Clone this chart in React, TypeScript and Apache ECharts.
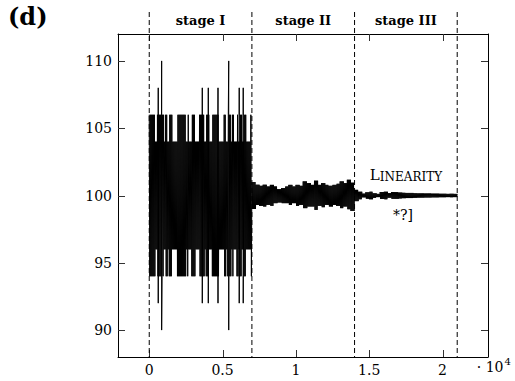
import { useEffect, useRef } from "react";
import * as echarts from "echarts";

// ---- axis ticks ----
const xTickValues = [0, 5000, 10000, 15000, 20000];
const yTickValues = [90, 95, 100, 105, 110];
const xRange = [-2130, 23100];
const yRange = [88, 112];

// ---- stages ----
const stageBounds = [0, 7000, 14000, 21000];
const stageNames = ["stage I", "stage II", "stage III"];

// stage I envelope spans: [from, to, low, high]
const stageISpans: number[][] = [
  [0, 7000, 96, 104],
  [0, 390, 94, 106],
  [548, 981, 94, 106],
  [1118, 1253, 94, 106],
  [1345, 1573, 94, 106],
  [1915, 2498, 94, 106],
  [2618, 2687, 94, 106],
  [2891, 3120, 94, 106],
  [3416, 3757, 94, 106],
  [3870, 4075, 94, 106],
  [4281, 4758, 94, 106],
  [5100, 5236, 94, 106],
  [5350, 5577, 94, 106],
  [5668, 5759, 94, 106],
  [5964, 6077, 94, 106],
  [6168, 6327, 94, 106],
  [6464, 6600, 94, 106],
  [6896, 7000, 94, 106],
];
// stage I isolated spikes: [x, low, high]
const stageISpikes: number[][] = [
  [614, 92, 108],
  [846, 90, 110],
  [3618, 92, 108],
  [4027, 92, 108],
  [4689, 92, 108],
  [5420, 90, 110],
  [6136, 92, 108],
  [6409, 92, 108],
];

// stage II / III envelopes, one value per 250-wide bin
const binWidth = 250;
const stageIIHigh = [
  101.0, 100.8, 100.72, 100.8, 100.67, 100.79, 100.67, 100.47, 100.55, 100.67,
  100.79, 100.67, 100.79, 100.72, 101.05, 100.92, 100.79, 101.1, 100.79, 100.92,
  100.79, 100.72, 100.79, 100.87, 101.05, 100.92, 101.17, 100.95,
];
const stageIILow = [
  99.0, 99.3, 99.23, 99.18, 99.3, 99.23, 99.43, 99.48, 99.43, 99.43,
  99.3, 99.43, 99.23, 99.3, 99.06, 99.18, 99.18, 98.93, 99.23, 99.13,
  99.3, 99.18, 99.3, 99.23, 99.06, 99.18, 98.98, 98.85,
];
const stageIIIHigh = [
  100.42, 100.28, 100.14, 100.24, 100.28, 100.17, 100.12, 100.26, 100.28, 100.17,
  100.25, 100.25, 100.22, 100.2, 100.19, 100.19, 100.17, 100.16, 100.16, 100.15,
  100.15, 100.14, 100.14, 100.13, 100.13, 100.12, 100.13, 100.12,
];
const stageIIILow = [
  99.58, 99.72, 99.86, 99.76, 99.72, 99.83, 99.88, 99.74, 99.72, 99.83,
  99.75, 99.75, 99.78, 99.8, 99.81, 99.81, 99.83, 99.84, 99.84, 99.85,
  99.85, 99.86, 99.86, 99.87, 99.87, 99.88, 99.87, 99.88,
];

const FONT = "'DejaVu Serif', serif";

function envelopeAt(x: number): [number, number] {
  if (x < stageBounds[1]) {
    let best: [number, number] = [100, 100];
    for (const s of stageISpans) {
      if (x >= s[0] && x <= s[1] && s[3] - s[2] > best[1] - best[0]) best = [s[2], s[3]];
    }
    return best;
  }
  if (x < stageBounds[2]) {
    const i = Math.min(stageIIHigh.length - 1, Math.floor((x - stageBounds[1]) / binWidth));
    return [stageIILow[i], stageIIHigh[i]];
  }
  const i = Math.min(stageIIIHigh.length - 1, Math.floor((x - stageBounds[2]) / binWidth));
  return [stageIIILow[i], stageIIIHigh[i]];
}

function buildSeries(): number[][] {
  const step = 35;
  const pts: number[][] = [];
  for (let k = 0; k * step <= stageBounds[3]; k++) {
    const x = k * step;
    const [lo, hi] = envelopeAt(x);
    pts.push([x, k % 2 === 0 ? hi : lo]);
  }
  for (const s of stageISpikes) {
    pts.push([s[0], s[2]]);
    pts.push([s[0], s[1]]);
  }
  pts.sort((a, b) => a[0] - b[0]);
  return pts;
}

export default function App() {
  const ref = useRef<HTMLDivElement>(null);
  useEffect(() => {
    if (!ref.current) return;
    const chart = echarts.init(ref.current, null, { renderer: "svg" });
    const axisLine = { show: true, onZero: false, lineStyle: { color: "#000", width: 1 } };
    const labelStyle = { fontFamily: FONT, fontSize: 14, color: "#000" };
    chart.setOption({
      animation: false,
      grid: { left: 118, right: 27, top: 34, bottom: 24 },
      xAxis: [
        {
          type: "value",
          position: "bottom",
          min: xRange[0],
          max: xRange[1],
          axisLine,
          splitLine: { show: false },
          axisTick: { show: false },
          axisLabel: {
            ...labelStyle,
            margin: 6,
            customValues: xTickValues,
            formatter: (v: number) => String(v / 10000),
          },
        },
        {
          type: "value",
          position: "top",
          min: xRange[0],
          max: xRange[1],
          axisLine,
          splitLine: { show: false },
          axisTick: { show: false },
          axisLabel: { show: false },
        },
      ],
      yAxis: [
        {
          type: "value",
          position: "left",
          min: yRange[0],
          max: yRange[1],
          axisLine,
          splitLine: { show: false },
          axisTick: { show: false },
          axisLabel: { ...labelStyle, margin: 6, customValues: yTickValues },
        },
        {
          type: "value",
          position: "right",
          min: yRange[0],
          max: yRange[1],
          axisLine,
          splitLine: { show: false },
          axisTick: { show: false },
          axisLabel: { show: false },
        },
      ],
      series: [
        {
          type: "line",
          xAxisIndex: 0,
          yAxisIndex: 0,
          data: buildSeries(),
          showSymbol: false,
          symbol: "none",
          silent: true,
          lineStyle: { color: "#000", width: 1 },
        },
      ],
    });

    const px = (v: number) => chart.convertToPixel({ xAxisIndex: 0 }, v) as number;
    const py = (v: number) => chart.convertToPixel({ yAxisIndex: 0 }, v) as number;
    const left = px(xRange[0]);
    const right = px(xRange[1]);
    const top = py(yRange[1]);
    const bottom = py(yRange[0]);
    const tickLen = 7;
    const graphics: any[] = [];
    xTickValues.forEach((v) => {
      const x = Math.round(px(v)) + 0.5;
      graphics.push({ type: "line", z: 100, shape: { x1: x, y1: bottom, x2: x, y2: bottom - tickLen }, style: { stroke: "#333", lineWidth: 1 } });
      graphics.push({ type: "line", z: 100, shape: { x1: x, y1: top, x2: x, y2: top + tickLen }, style: { stroke: "#333", lineWidth: 1 } });
    });
    yTickValues.forEach((v) => {
      const y = Math.round(py(v)) + 0.5;
      graphics.push({ type: "line", z: 100, shape: { x1: left, y1: y, x2: left + tickLen, y2: y }, style: { stroke: "#333", lineWidth: 1 } });
      graphics.push({ type: "line", z: 100, shape: { x1: right, y1: y, x2: right - tickLen, y2: y }, style: { stroke: "#333", lineWidth: 1 } });
    });
    const xs = stageBounds.map((v) => px(v));
    xs.forEach((x) => {
      graphics.push({
        type: "line",
        z: 100,
        shape: { x1: x, y1: 12, x2: x, y2: bottom },
        style: { stroke: "#000", lineWidth: 1, lineDash: [5, 3] },
      });
    });
    stageNames.forEach((name, i) => {
      graphics.push({
        type: "text",
        x: (xs[i] + xs[i + 1]) / 2,
        y: 20,
        style: {
          text: name,
          font: `bold 13px ${FONT}`,
          fill: "#000",
          align: "center",
          verticalAlign: "middle",
        },
      });
    });
    graphics.push({
      type: "text",
      x: 8,
      y: 16,
      style: { text: "(d)", font: `bold 24px ${FONT}`, fill: "#000", align: "left", verticalAlign: "middle" },
    });
    graphics.push({
      type: "text",
      x: 406,
      y: 175,
      style: {
        text: "{a|L}{b|INEARITY}",
        align: "center",
        verticalAlign: "middle",
        rich: {
          a: { fontFamily: FONT, fontSize: 15, fill: "#000", color: "#000", verticalAlign: "bottom" },
          b: { fontFamily: FONT, fontSize: 12, fill: "#000", color: "#000", verticalAlign: "bottom" },
        },
      },
    });
    graphics.push({
      type: "text",
      x: 403,
      y: 215,
      style: { text: "*?]", font: `14px ${FONT}`, fill: "#000", align: "center", verticalAlign: "middle" },
    });
    graphics.push({
      type: "text",
      x: 503.5,
      y: 367,
      style: { text: "· 10", font: `14px ${FONT}`, fill: "#000", align: "right", verticalAlign: "middle" },
    });
    graphics.push({
      type: "text",
      x: 504.5,
      y: 361.5,
      style: { text: "4", font: `10px ${FONT}`, fill: "#000", align: "left", verticalAlign: "middle" },
    });
    chart.setOption({ graphic: graphics });

    return () => chart.dispose();
  }, []);
  return (
    <div
      ref={ref}
      style={{ position: "fixed", left: 0, top: 0, width: 515, height: 381, background: "#fff" }}
    />
  );
}
